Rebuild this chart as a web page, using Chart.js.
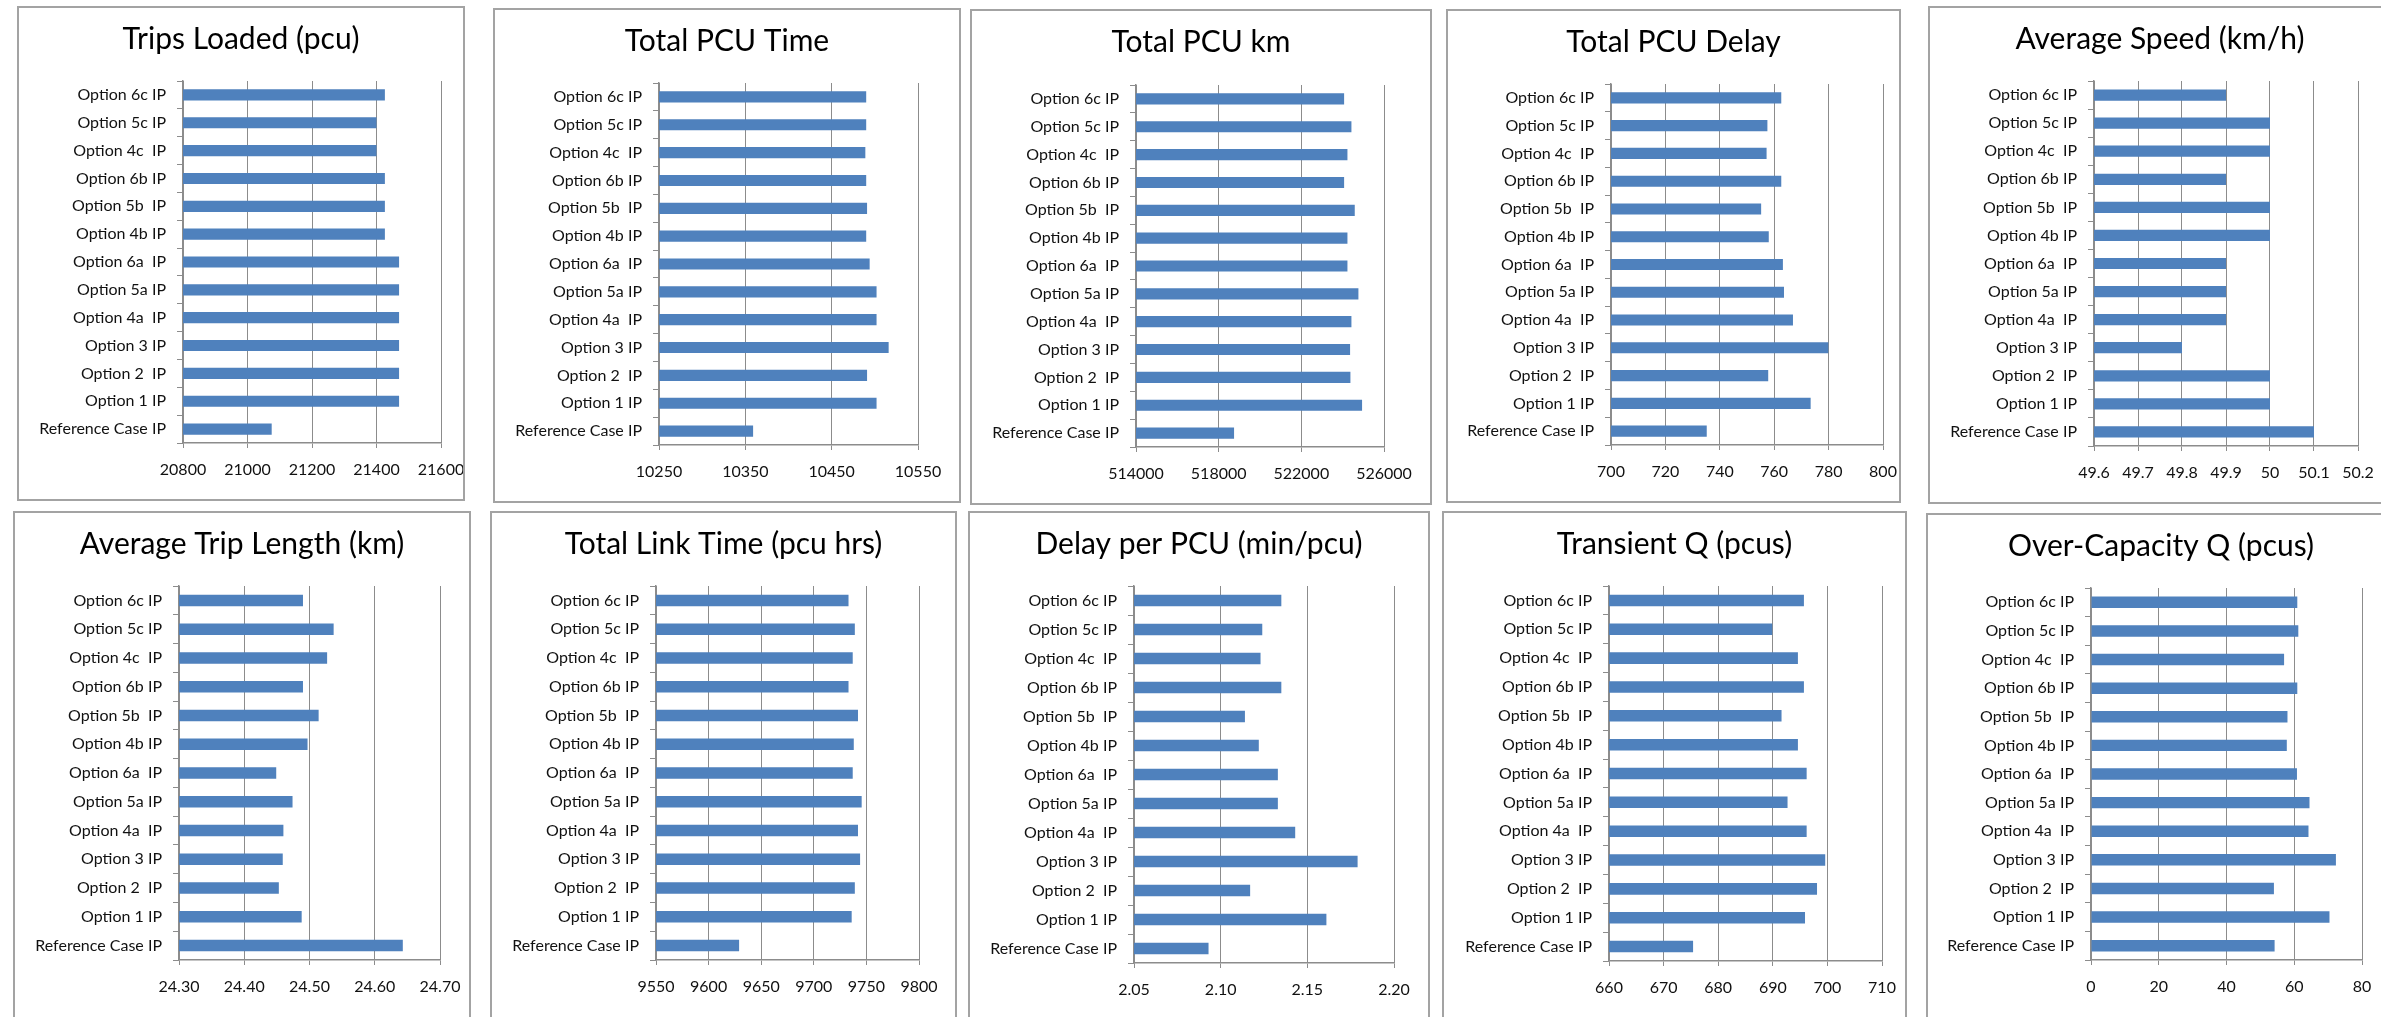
<!DOCTYPE html>
<html>
<head>
<meta charset="utf-8">
<script src="https://cdn.jsdelivr.net/npm/chart.js@4.4.0/dist/chart.umd.min.js"></script>
<style>
  html, body { margin: 0; padding: 0; background: #fff; overflow: hidden; }
  body { width: 2381px; height: 1017px; position: relative; }
  canvas { position: absolute; }
  .frame { position: absolute; box-sizing: border-box; border: 2px solid #a3a3a3; pointer-events: none; }
</style>
</head>
<body>
<script>
// categories, top to bottom as in the reference
const categories = ["Option 6c IP", "Option 5c IP", "Option 4c  IP", "Option 6b IP", "Option 5b  IP",
  "Option 4b IP", "Option 6a  IP", "Option 5a IP", "Option 4a  IP", "Option 3 IP", "Option 2  IP",
  "Option 1 IP", "Reference Case IP"];

const tripsLoaded = [21426, 21400, 21400, 21426, 21426, 21426, 21470, 21470, 21470, 21470, 21470, 21470, 21075];
const totalPcuTime = [10490, 10490, 10489, 10490, 10491, 10490, 10494, 10502, 10502, 10516, 10491, 10502, 10359];
const totalPcuKm = [524070, 524424, 524231, 524070, 524585, 524231, 524231, 524762, 524424, 524359, 524375, 524939, 518745];
const totalPcuDelay = [762.6, 757.5, 757.2, 762.6, 755.2, 758.0, 763.2, 763.6, 766.9, 779.9, 757.8, 773.4, 735.2];
const averageSpeed = [49.9, 50, 50, 49.9, 50, 50, 49.9, 49.9, 49.9, 49.8, 50, 50, 50.1];
const avgTripLength = [24.490, 24.537, 24.527, 24.490, 24.514, 24.497, 24.449, 24.474, 24.460, 24.459, 24.453, 24.488, 24.643];
const totalLinkTime = [9733, 9739, 9737, 9733, 9742, 9738, 9737, 9745.5, 9742, 9744, 9739, 9736, 9629];
const delayPerPcu = [2.135, 2.124, 2.123, 2.135, 2.114, 2.122, 2.133, 2.133, 2.143, 2.179, 2.117, 2.161, 2.093];
const transientQ = [695.7, 689.9, 694.6, 695.7, 691.6, 694.6, 696.2, 692.7, 696.2, 699.6, 698.1, 695.9, 675.4];
const overCapacityQ = [60.9, 61.2, 57.0, 60.9, 58.0, 57.8, 60.8, 64.5, 64.2, 72.3, 54.0, 70.4, 54.2];

const titles = ["Trips Loaded (pcu)", "Total PCU Time", "Total PCU km", "Total PCU Delay", "Average Speed (km/h)",
  "Average Trip Length (km)", "Total Link Time (pcu hrs)", "Delay per PCU (min/pcu)", "Transient Q (pcus)",
  "Over-Capacity Q (pcus)"];

// x axis ticks
const tickMin = [20800, 10250, 514000, 700, 49.6, 24.3, 9550, 2.05, 660, 0];
const tickMax = [21600, 10550, 526000, 800, 50.2, 24.7, 9800, 2.20, 710, 80];
const tickStep = [200, 100, 4000, 20, 0.1, 0.1, 50, 0.05, 10, 20];
const tickDecimals = [0, 0, 0, 0, 1, 2, 0, 2, 0, 0];

const series = [tripsLoaded, totalPcuTime, totalPcuKm, totalPcuDelay, averageSpeed,
  avgTripLength, totalLinkTime, delayPerPcu, transientQ, overCapacityQ];

// page layout: panel frames and plot areas [left, top, right, bottom]
const frames = [[17, 6, 465, 501], [493, 8, 961, 503], [970, 9, 1432, 505], [1446, 9, 1901, 503], [1928, 6, 2392, 504],
  [13, 511, 471, 1030], [490, 511, 957, 1030], [968, 511, 1430, 1030], [1442, 511, 1907, 1030], [1926, 513, 2396, 1030]];
const plots = [[183, 81, 441, 443], [659, 83, 918, 445], [1136, 85, 1384, 447], [1611, 84, 1883, 445], [2094, 81, 2358, 446],
  [179, 586, 440, 960], [656, 586, 919, 960], [1134, 586, 1394, 963], [1609, 586, 1882, 961], [2091, 588, 2362, 960]];

const grey = "#8c8c8c";
const fmt = (v, dec) => dec === 1 ? String(+v.toFixed(1)) : v.toFixed(dec);

// keep the title centred on the whole panel, not only on the part left of the right padding
const centerTitle = {
  id: "centerTitle",
  afterLayout(chart) {
    chart.titleBlock.left = 0;
    chart.titleBlock.right = chart.width;
  },
};

series.forEach((values, i) => {
  const [bl, bt, br, bb] = frames[i];
  const [pl, pt, pr, pb] = plots[i];

  const canvas = document.createElement("canvas");
  canvas.width = br - bl;
  canvas.height = bb - bt;
  canvas.style.left = bl + "px";
  canvas.style.top = bt + "px";
  document.body.appendChild(canvas);

  const frame = document.createElement("div");
  frame.className = "frame";
  frame.style.cssText = `left:${bl}px;top:${bt}px;width:${br - bl}px;height:${bb - bt}px;`;
  document.body.appendChild(frame);

  new Chart(canvas, {
    type: "bar",
    data: {
      labels: categories,
      datasets: [{
        data: values,
        backgroundColor: "#4F81BD",
        barPercentage: 0.4,
        categoryPercentage: 1,
      }],
    },
    plugins: [centerTitle],
    options: {
      indexAxis: "y",
      responsive: false,
      animation: false,
      layout: { padding: { left: 0, right: br - pr, top: 0, bottom: 0 } },
      plugins: {
        legend: { display: false },
        tooltip: { enabled: false },
        title: {
          display: true,
          text: titles[i],
          color: "#000",
          font: { family: "Lato", size: 30, weight: "normal" },
          padding: { top: 15, bottom: pt - bt - 15 - 36 },
        },
      },
      scales: {
        x: {
          min: tickMin[i],
          max: tickMax[i],
          ticks: {
            stepSize: tickStep[i],
            color: "#111",
            font: { family: "Lato", size: 16 },
            padding: 12,
            maxRotation: 0,
            autoSkip: false,
            callback: (v) => fmt(v, tickDecimals[i]),
          },
          grid: { color: grey, lineWidth: 1, tickLength: 5 },
          border: { color: grey, width: 1.5 },
          afterFit: (s) => { s.height = bb - pb; s.paddingLeft = 0; s.paddingRight = 0; },
        },
        y: {
          ticks: { color: "#111", font: { family: "Lato", size: 16 }, padding: 11, autoSkip: false },
          grid: { drawOnChartArea: false, offset: true, tickLength: 6, color: grey },
          border: { color: grey, width: 1.5 },
          afterFit: (s) => { s.width = pl - bl; s.paddingTop = 0; s.paddingBottom = 0; },
        },
      },
    },
  });
});
</script>
</body>
</html>
